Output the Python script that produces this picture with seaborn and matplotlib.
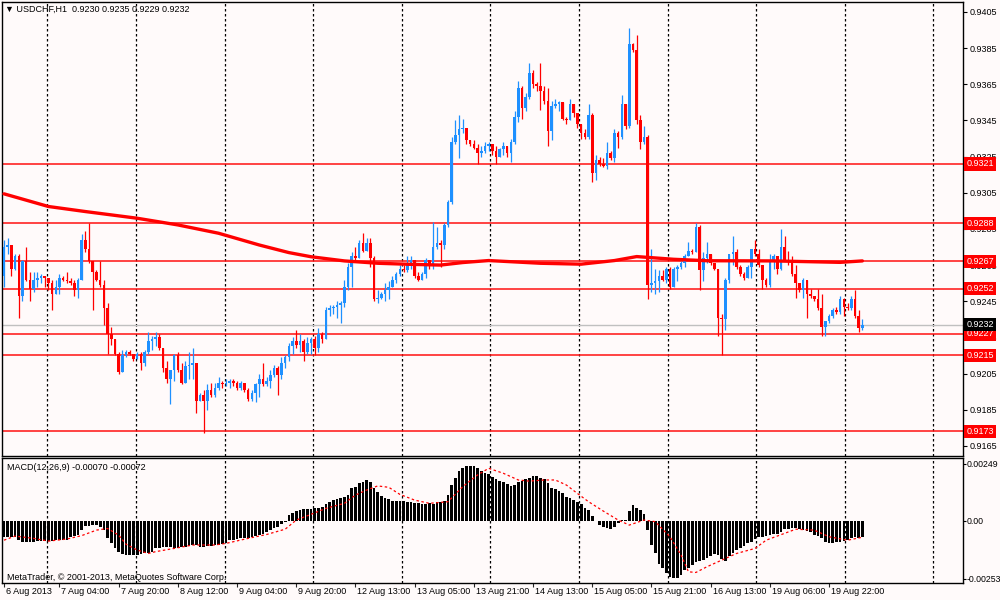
import numpy as np
import matplotlib
matplotlib.use("Agg")
import matplotlib.pyplot as plt
from matplotlib import transforms
import seaborn as sns

# USDCHF H1 candles, prices stored as pips above 0.9000 (e.g. 275 -> 0.9275)
first_open = 259
closes = [
    275, 276, 263, 270, 248, 267, 257, 252, 257, 258,
    259, 258, 255, 249, 253, 258, 257, 256, 255, 251,
    257, 279, 274, 267, 261, 257, 254, 241, 227, 224,
    216, 206, 215, 217, 216, 213, 216, 211, 217, 223,
    224, 225, 219, 208, 202, 207, 215, 207, 200, 209,
    210, 211, 190, 193, 190, 196, 193, 197, 200, 199,
    200, 201, 200, 197, 200, 196, 191, 194, 199, 202,
    199, 201, 204, 208, 204, 211, 214, 220, 223, 221,
    223, 217, 222, 224, 219, 227, 224, 240, 241, 242,
    243, 244, 253, 264, 270, 269, 277, 273, 277, 269,
    246, 247, 249, 251, 253, 257, 260, 263, 262, 266,
    268, 259, 257, 260, 268, 265, 275, 277, 276, 287,
    300, 333, 337, 340, 341, 334, 332, 330, 327, 328,
    331, 332, 328, 325, 329, 331, 327, 333, 347, 363,
    352, 358, 371, 365, 364, 361, 356, 339, 353, 354,
    355, 346, 345, 354, 349, 343, 338, 336, 348, 316,
    323, 321, 320, 327, 324, 338, 336, 354, 342, 387,
    384, 345, 333, 336, 254, 255, 256, 259, 257, 263,
    253, 263, 264, 266, 270, 273, 272, 286, 262, 269,
    271, 266, 263, 236, 235, 257, 271, 272, 264, 260,
    258, 264, 274, 271, 265, 257, 254, 267, 270, 263,
    275, 268, 267, 260, 255, 251, 257, 249, 248, 246,
    241, 231, 234, 237, 240, 239, 246, 242, 241, 246,
    237, 230, 232,
]
highs = [
    279, 280, 272, 271, 271, 268, 275, 261, 261, 261,
    260, 259, 258, 257, 257, 260, 259, 261, 258, 257,
    258, 282, 284, 288, 267, 262, 267, 257, 244, 231,
    223, 217, 218, 218, 218, 216, 217, 217, 218, 228,
    226, 228, 227, 219, 212, 207, 216, 217, 211, 212,
    217, 219, 208, 194, 196, 199, 200, 200, 203, 201,
    202, 202, 202, 201, 201, 200, 197, 196, 200, 205,
    211, 203, 207, 210, 209, 214, 215, 222, 225, 229,
    227, 224, 225, 225, 226, 230, 228, 242, 243, 243,
    245, 245, 257, 266, 272, 275, 279, 283, 280, 280,
    270, 251, 250, 255, 256, 259, 261, 265, 265, 270,
    270, 267, 261, 261, 269, 268, 289, 286, 279, 288,
    301, 336, 345, 348, 346, 341, 334, 334, 332, 331,
    333, 333, 332, 331, 330, 333, 331, 335, 350, 367,
    364, 360, 377, 373, 366, 377, 364, 363, 356, 357,
    356, 355, 347, 357, 353, 349, 343, 340, 354, 349,
    326, 325, 324, 333, 328, 340, 339, 359, 353, 396,
    388, 392, 348, 342, 337, 274, 263, 262, 262, 264,
    264, 264, 265, 267, 271, 278, 274, 288, 287, 272,
    278, 269, 266, 262, 238, 258, 271, 281, 274, 265,
    261, 265, 274, 279, 274, 265, 258, 271, 271, 268,
    285, 281, 273, 270, 265, 255, 258, 257, 252, 248,
    252, 249, 234, 238, 241, 242, 248, 247, 244, 248,
    251, 240, 235,
]
lows = [
    253, 271, 259, 262, 236, 245, 256, 245, 250, 253,
    255, 253, 251, 240, 249, 249, 256, 255, 254, 248,
    247, 257, 272, 266, 240, 256, 253, 232, 216, 221,
    215, 205, 206, 214, 215, 212, 213, 207, 209, 216,
    218, 220, 218, 206, 200, 188, 201, 206, 199, 204,
    202, 202, 183, 191, 172, 185, 192, 192, 196, 197,
    198, 197, 198, 196, 196, 195, 190, 190, 189, 192,
    198, 198, 197, 203, 193, 202, 208, 212, 216, 219,
    217, 212, 216, 216, 215, 217, 222, 224, 237, 238,
    236, 233, 242, 251, 253, 268, 269, 272, 273, 264,
    245, 244, 246, 245, 246, 253, 255, 259, 261, 261,
    263, 258, 256, 257, 258, 263, 263, 274, 264, 274,
    286, 299, 332, 324, 338, 332, 331, 329, 321, 325,
    327, 328, 326, 321, 325, 326, 325, 322, 332, 344,
    346, 350, 357, 363, 361, 351, 354, 331, 334, 352,
    350, 345, 343, 345, 347, 341, 335, 335, 335, 311,
    312, 320, 319, 318, 323, 322, 330, 335, 340, 341,
    383, 343, 329, 332, 246, 250, 249, 250, 256, 255,
    252, 254, 256, 263, 264, 270, 271, 272, 251, 256,
    266, 265, 262, 226, 215, 229, 255, 265, 263, 259,
    257, 258, 258, 270, 264, 252, 253, 253, 263, 260,
    262, 267, 265, 259, 247, 250, 247, 236, 247, 245,
    240, 226, 226, 233, 236, 238, 238, 237, 240, 240,
    236, 228, 229,
]

# moving average (thick red line), read at sparse bars
ma_idx = [0, 12, 22, 36, 47, 58, 69, 77, 83, 92, 101, 110, 118, 124,
          131, 145, 156, 165, 171, 181, 190, 208, 226, 232]
ma_val = [304.4, 297.4, 294.6, 290.9, 287.2, 282.6, 276.1, 271.9, 269.6,
          267.3, 266.0, 265.4, 265.0, 266.4, 267.5, 266.0, 265.5, 267.5,
          269.7, 268.2, 267.4, 267.3, 266.5, 267.3]

# horizontal levels
levels = [0.9321, 0.9288, 0.9267, 0.9252, 0.9227, 0.9215, 0.9173]
last_price = 0.9232

# MACD histogram, units of 0.00001
macd = [
    -70, -70, -70, -70, -85, -92, -92, -92, -92, -89,
    -89, -89, -89, -89, -85, -85, -85, -85, -70, -66,
    -63, -41, -22, -22, -19, -20, -26, -41, -77, -99,
    -121, -136, -147, -150, -150, -150, -150, -147, -143, -140,
    -136, -121, -118, -114, -114, -116, -118, -118, -114, -113,
    -110, -108, -106, -114, -113, -112, -112, -106, -104, -102,
    -99, -85, -83, -80, -77, -77, -74, -70, -67, -64,
    -60, -51, -42, -31, -26, -16, -4, 25, 32, 42,
    47, 50, 52, 53, 54, 57, 61, 72, 83, 90,
    94, 98, 105, 112, 141, 149, 163, 170, 178, 170,
    141, 127, 109, 98, 93, 87, 86, 85, 84, 83,
    80, 78, 76, 74, 73, 76, 75, 80, 83, 86,
    112, 156, 188, 217, 232, 240, 240, 240, 232, 217,
    207, 203, 192, 182, 174, 168, 159, 153, 156, 168,
    174, 182, 188, 197, 197, 188, 182, 163, 144, 139,
    130, 120, 105, 98, 90, 83, 71, 54, 47, 20,
    -2, -19, -26, -31, -37, -26, -12, 3, 3, 42,
    68, 57, 47, 28, -41, -104, -143, -187, -208, -230,
    -245, -249, -249, -238, -216, -208, -194, -179, -176, -172,
    -162, -153, -147, -150, -165, -176, -153, -143, -128, -118,
    -109, -99, -95, -80, -70, -70, -66, -63, -58, -56,
    -48, -37, -34, -31, -31, -34, -41, -45, -51, -63,
    -66, -77, -95, -99, -99, -95, -95, -89, -85, -74,
    -70, -74, -70,
]
sig_idx = [0, 3, 8, 12, 17, 21, 25, 28, 31, 33, 36, 39, 41, 46, 51, 57, 60,
           66, 71, 76, 79, 83, 87, 92, 95, 98, 101, 104, 107, 111, 115, 120,
           124, 128, 131, 135, 139, 142, 146, 149, 152, 155, 158, 162, 166,
           169, 173, 176, 180, 183, 185, 187, 190, 194, 198, 203, 206, 211,
           214, 219, 223, 228, 232]
sig_val = [-85, -67, -77, -89, -80, -65, -41, -34, -63, -103, -128, -143,
           -135, -121, -106, -106, -99, -77, -60, -37, 3, 28, 54, 76, 112,
           134, 152, 146, 115, 90, 76, 83, 149, 200, 229, 207, 178, 173, 178,
           178, 156, 119, 83, 42, 3, -19, 3, -4, -70, -150, -223, -226, -201,
           -172, -143, -121, -85, -55, -37, -41, -70, -85, -72]

price_ticks = [0.9405, 0.9385, 0.9365, 0.9345, 0.9325, 0.9305, 0.9285,
               0.9265, 0.9245, 0.9225, 0.9205, 0.9185, 0.9165]
time_idx = [0, 15, 31, 47, 63, 79, 95, 111, 127, 143, 159, 175, 191, 207, 223]
time_labels = ["6 Aug 2013", "7 Aug 04:00", "7 Aug 20:00", "8 Aug 12:00",
               "9 Aug 04:00", "9 Aug 20:00", "12 Aug 13:00", "13 Aug 05:00",
               "13 Aug 21:00", "14 Aug 13:00", "15 Aug 05:00", "15 Aug 21:00",
               "16 Aug 13:00", "19 Aug 06:00", "19 Aug 22:00"]

BG = "#fffafa"
BULL = "#1e90ff"
BEAR = "#ff0000"

sns.set_theme(style="white")
plt.rcParams["font.family"] = ["Liberation Sans", "DejaVu Sans"]
plt.rcParams["font.size"] = 6.5

c = 0.9 + np.array(closes) / 10000
h = 0.9 + np.array(highs) / 10000
l = 0.9 + np.array(lows) / 10000
o = np.concatenate([[0.9 + first_open / 10000], c[:-1]])
h = np.maximum(h, np.maximum(o, c))
l = np.minimum(l, np.minimum(o, c))
idx = np.arange(len(c))
cols = np.where(c >= o, BULL, BEAR)

fig = plt.figure(figsize=(10, 6), dpi=100, facecolor=BG)
ax = fig.add_axes([0.002, 0.24, 0.961, 454 / 600])
ax2 = fig.add_axes([0.002, 1 - 583 / 600, 0.961, 125 / 600])
xlim = (-0.54, 259.2)

for a in (ax, ax2):
    a.set_facecolor(BG)
    a.set_xlim(*xlim)
    for s in a.spines.values():
        s.set_color("black")
        s.set_linewidth(1)
    # dashed vertical grid every 24 bars
    for g in np.arange(11.7, 259, 23.95):
        a.axvline(g, color="black", lw=0.9, ls=(0, (2, 2)), zorder=1)

# ---- price panel
ax.set_ylim(0.91594, 0.94105)
for lv in levels:
    ax.axhline(lv, color="#ff1010", lw=1.1, zorder=2)
ax.axhline(last_price, color="#c0c0c0", lw=1, zorder=2)

ax.vlines(idx, l, h, colors=cols, lw=0.9, zorder=3)
body_lo = np.minimum(o, c)
body_h = np.maximum(np.abs(c - o), 0.00003)
ax.bar(idx, body_h, bottom=body_lo, width=0.7, color=cols, lw=0, zorder=4)

sns.lineplot(x=ma_idx, y=0.9 + np.array(ma_val) / 10000, ax=ax,
             color="#ff0000", lw=2.4, zorder=5)

ax.set_yticks(price_ticks)
ax.set_yticklabels([f"{t:.4f}" for t in price_ticks])
ax.tick_params(axis="y", left=False, right=True, labelleft=False,
               labelright=True, length=3, width=0.8, pad=1.5,
               labelsize=6.5, colors="black", direction="out")
ax.set_xticks([])
ax.set_xlabel("")
ax.set_ylabel("")

blend = transforms.blended_transform_factory(ax.transAxes, ax.transData)
for lv in levels:
    ax.text(1.0035, lv, f"{lv:.4f}", transform=blend, ha="left", va="center",
            color="white", fontsize=6.5, clip_on=False, zorder=10,
            bbox=dict(boxstyle="square,pad=0.25", fc="#ff0000", ec="none"))
ax.text(1.0035, last_price, f"{last_price:.4f}", transform=blend, ha="left",
        va="center", color="white", fontsize=6.5, clip_on=False, zorder=10,
        bbox=dict(boxstyle="square,pad=0.25", fc="black", ec="none"))

fig.text(0.005, 1 - 9 / 600, "\u25bc USDCHF,H1  0.9230 0.9235 0.9229 0.9232",
         ha="left", va="center", fontsize=6.5, color="black")

# ---- MACD panel
ax2.set_ylim(-272, 274)
ax2.bar(idx, macd, width=0.72, color="black", lw=0, zorder=3)
sns.lineplot(x=sig_idx, y=sig_val, ax=ax2, color="#ff0000", lw=0.9, zorder=4)
ax2.lines[-1].set_linestyle((0, (2, 2)))

ax2.set_yticks([249, 0, -253])
ax2.set_yticklabels(["0.00249", "0.00", "-0.00253"])
ax2.tick_params(axis="y", left=False, right=True, labelleft=False,
                labelright=True, length=2, width=0.8, pad=0.8,
                labelsize=6.3, colors="black", direction="out")
ax2.set_xticks(time_idx)
ax2.set_xticklabels([])
ax2.tick_params(axis="x", bottom=True, length=3, width=0.8, direction="out")
ax2.set_xlabel("")
ax2.set_ylabel("")

tblend = transforms.blended_transform_factory(ax2.transData, ax2.transAxes)
shift = transforms.ScaledTranslation(2 / 100, -4 / 100, fig.dpi_scale_trans)
for t, lab in zip(time_idx, time_labels):
    ax2.text(t, 0, lab, transform=tblend + shift, ha="left", va="top",
             fontsize=6.5, color="black", clip_on=False)

fig.text(0.007, 1 - 467 / 600, "MACD(12,26,9) -0.00070 -0.00072",
         ha="left", va="center", fontsize=6.5, color="black")
fig.text(0.007, 1 - 577 / 600,
         "MetaTrader, \u00a9 2001-2013, MetaQuotes Software Corp.",
         ha="left", va="center", fontsize=6.5, color="black")

fig.savefig("out.png", dpi=100, facecolor=BG)
